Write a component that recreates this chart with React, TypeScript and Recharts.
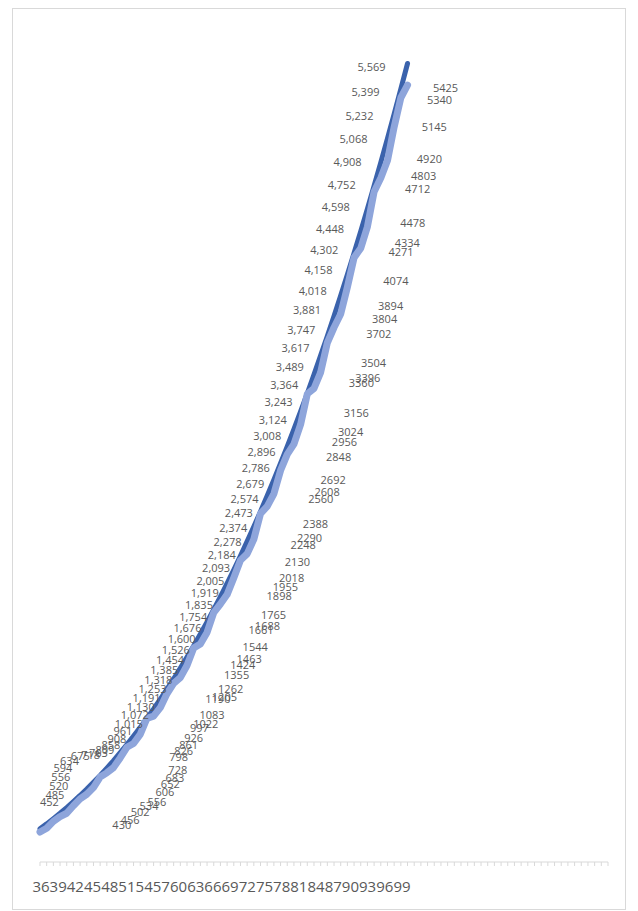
import { LineChart, Line, XAxis, YAxis, LabelList } from 'recharts'

// cumulative values, one per category
const darkValues = [
  452, 485, 520, 556, 594, 634, 675, 718, 763, 809, 858, 908, 961, 1015, 1072, 1130,
  1191, 1253, 1318, 1385, 1454, 1526, 1600, 1676, 1754, 1835, 1919, 2005, 2093, 2184,
  2278, 2374, 2473, 2574, 2679, 2786, 2896, 3008, 3124, 3243, 3364, 3489, 3617, 3747,
  3881, 4018, 4158, 4302, 4448, 4598, 4752, 4908, 5068, 5232, 5399, 5569,
]
const lightValues = [
  430, 456, 502, 534, 556, 606, 652, 683, 728, 798, 826, 861, 926, 997, 1022, 1083,
  1190, 1205, 1262, 1355, 1424, 1463, 1544, 1661, 1688, 1765, 1898, 1955, 2018, 2130,
  2248, 2290, 2388, 2560, 2608, 2692, 2848, 2956, 3024, 3156, 3360, 3396, 3504, 3702,
  3804, 3894, 4074, 4271, 4334, 4478, 4712, 4803, 4920, 5145, 5340, 5425,
]
const categoryCount = 86
const tickLabels = [
  '36', '39', '42', '45', '48', '51', '54', '57', '60', '63', '66',
  '69', '72', '75', '78', '81', '84', '87', '90', '93', '96', '99',
]

const data = Array.from({ length: categoryCount }, (_, i) => ({
  idx: i,
  dark: darkValues[i],
  light: lightValues[i],
}))

// tick label slots spread over the index axis
const labelStep = (categoryCount - 1) / (tickLabels.length - 1)
const labelTicks = tickLabels.map((_, i) => i * labelStep)

const FONT = '"Open Sans", "Noto Sans", sans-serif'
const TEXT = '#595959'

const pos = (p: any) => {
  const vb = p.viewBox || {}
  return { x: p.x ?? vb.x, y: p.y ?? vb.y }
}
const bump = (v: number, c: number, w: number) => Math.exp(-(((v - c) / w) ** 2))

// labels sit up-left of the darker line, drifting further up near the bottom
const DarkLabel = (p: any) => {
  const { x, y } = pos(p)
  if (p.value == null || x == null || y == null || isNaN(y)) return null
  const t = y - 64
  const dx = -36 + 0.0236 * t + 0.0000473 * t * t - 12 * bump(y, 805, 12)
  const lift = -3 + 0.036 * t + 18 * bump(y, 802, 20)
  return (
    <text
      x={x + dx} y={y - lift}
      textAnchor="middle" dominantBaseline="central"
      fontSize={11} fill={TEXT} fontFamily={FONT}
    >
      {Number(p.value).toLocaleString('en-US')}
    </text>
  )
}

// labels to the right of the lighter line
const LightLabel = (p: any) => {
  const { x, y } = pos(p)
  if (p.value == null || x == null || y == null || isNaN(y)) return null
  const t = y - 85
  const dx = 38 + 0.052 * t + 16 * bump(t, 720, 25)
  const lift = t > 680 ? 24 - 0.25 * (t - 680) : -2 + 0.05 * t - 0.000025 * t * t
  return (
    <text
      x={x + dx} y={y - lift}
      textAnchor="middle" dominantBaseline="central"
      fontSize={11} fill={TEXT} fontFamily={FONT}
    >
      {p.value}
    </text>
  )
}

export default function App() {
  return (
    <div style={{ position: 'absolute', left: 0, top: 0, width: 638, height: 911, background: '#fff' }}>
      <div style={{
        position: 'absolute', left: 12, top: 8, width: 614, height: 902,
        border: '1px solid #d9d9d9', boxSizing: 'border-box',
      }} />
      <div style={{ position: 'absolute', left: 0, top: 0 }}>
        <LineChart width={638} height={911} data={data} margin={{ top: 14, right: 30, left: 40, bottom: 0 }}>
          <XAxis
            dataKey="idx" interval={0} height={6} tickSize={4}
            tickFormatter={() => ''}
            axisLine={{ stroke: '#d9d9d9' }} tickLine={{ stroke: '#d9d9d9' }}
          />
          <XAxis
            xAxisId="lab" dataKey="idx" type="number" domain={[0, categoryCount - 1]}
            ticks={labelTicks} tickFormatter={(v: number) => tickLabels[Math.round(v / labelStep)]}
            interval={0} padding={{ left: 1, right: 206 }} height={43}
            axisLine={false} tickLine={false} tickSize={0} tickMargin={13}
            tick={{ fontSize: 15, fill: TEXT, fontFamily: FONT }}
          />
          <YAxis hide domain={[230, 5900]} />
          <Line
            dataKey="dark" type="linear" stroke="#3A62AC" strokeWidth={5}
            strokeLinecap="round" strokeLinejoin="round" dot={false} isAnimationActive={false}
          >
            <LabelList dataKey="dark" content={DarkLabel} />
          </Line>
          <Line
            dataKey="light" type="linear" stroke="#8EA5DB" strokeWidth={7}
            strokeLinecap="round" strokeLinejoin="round" dot={false} isAnimationActive={false}
          >
            <LabelList dataKey="light" content={LightLabel} />
          </Line>
        </LineChart>
      </div>
    </div>
  )
}
